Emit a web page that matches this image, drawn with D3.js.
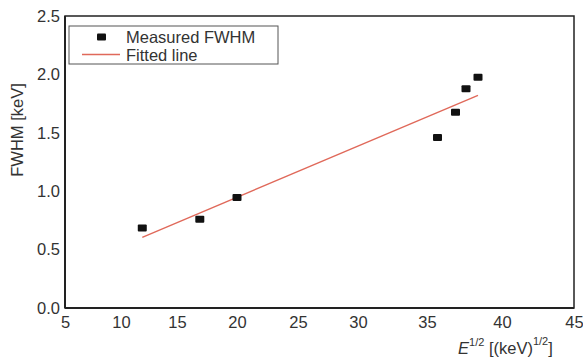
<!DOCTYPE html>
<html>
<head>
<meta charset="utf-8">
<script src="https://cdn.jsdelivr.net/npm/d3@7"></script>
<style>
  body { margin: 0; background: #fff; }
  svg { font-family: "Liberation Sans", Arial, sans-serif; }
  .tick text { font-size: 16.5px; fill: #333; }
  .label { font-size: 16.5px; fill: #333; }
</style>
</head>
<body>
<svg width="583" height="358"></svg>
<script>
// measured points, E^1/2 vs FWHM
var sqrtE = [11.9, 16.9, 20.0, 35.7, 36.9, 37.6, 38.4];
var fwhm = [0.684, 0.76, 0.946, 1.46, 1.675, 1.878, 1.975];

// fitted line end points
var fitX = [11.9, 38.4];
var fitY = [0.605, 1.82];

var xTicks = [5, 10, 15, 20, 25, 30, 35, 40, 45];
var yTicks = [0.0, 0.5, 1.0, 1.5, 2.0, 2.5];

var seriesNames = ['Measured FWHM', 'Fitted line'];

var svg = d3.select('svg');

var plotLeft = 65, plotRight = 574, plotTop = 16, plotBottom = 308;

// the x axis of the original figure is not evenly spaced, so the scale follows its tick spots
var xStops = [65, 121, 177, 237, 298, 358, 427, 502, 574];
var xScale = d3.scaleLinear().domain(xTicks).range(xStops);
var yScale = d3.scaleLinear().domain([0, 2.5]).range([plotBottom, plotTop]);

// **** axes ****
var xAxis = svg.append('g')
    .attr('transform', 'translate(0,' + plotBottom + ')')
    .call(d3.axisBottom(xScale).tickValues(xTicks).tickSize(0).tickPadding(8)
        .tickFormat(d3.format('d')));
xAxis.select('.domain').remove();

var yAxis = svg.append('g')
    .attr('transform', 'translate(' + plotLeft + ',0)')
    .call(d3.axisLeft(yScale).tickValues(yTicks).tickSize(0).tickPadding(5)
        .tickFormat(d3.format('.1f')));
yAxis.select('.domain').remove();

// frame
svg.append('rect')
    .attr('x', plotLeft).attr('y', plotTop)
    .attr('width', plotRight - plotLeft).attr('height', plotBottom - plotTop)
    .attr('fill', 'none').attr('stroke', '#222').attr('stroke-width', 1.5);
svg.append('line')
    .attr('x1', plotLeft).attr('x2', plotLeft).attr('y1', plotTop).attr('y2', plotBottom)
    .attr('stroke', '#222').attr('stroke-width', 2);
svg.append('line')
    .attr('x1', plotLeft).attr('x2', plotRight).attr('y1', plotBottom).attr('y2', plotBottom)
    .attr('stroke', '#222').attr('stroke-width', 2);

// **** fitted line ****
var fitData = fitX.map(function(x, i) { return [x, fitY[i]]; });
svg.append('path')
    .datum(fitData)
    .attr('fill', 'none')
    .attr('stroke', '#e0695a')
    .attr('stroke-width', 1.4)
    .attr('d', d3.line()
        .x(function(d) { return xScale(d[0]); })
        .y(function(d) { return yScale(d[1]); }));

// **** points ****
var pts = sqrtE.map(function(x, i) { return [x, fwhm[i]]; });
svg.selectAll('.pt')
    .data(pts)
    .enter()
    .append('rect')
    .attr('class', 'pt')
    .attr('x', function(d) { return xScale(d[0]) - 4.5; })
    .attr('y', function(d) { return yScale(d[1]) - 3.5; })
    .attr('width', 9)
    .attr('height', 7)
    .attr('rx', 1)
    .attr('fill', '#111');

// **** legend ****
var legend = svg.append('g');
legend.append('rect')
    .attr('x', 69).attr('y', 26).attr('width', 209).attr('height', 38)
    .attr('fill', '#fff').attr('stroke', '#555').attr('stroke-width', 1);
legend.append('rect')
    .attr('x', 97).attr('y', 33.5).attr('width', 9).attr('height', 7)
    .attr('rx', 1).attr('fill', '#111');
legend.append('line')
    .attr('x1', 82).attr('x2', 120).attr('y1', 54.5).attr('y2', 54.5)
    .attr('stroke', '#e0695a').attr('stroke-width', 1.4);
legend.selectAll('.legtext')
    .data(seriesNames)
    .enter()
    .append('text')
    .attr('class', 'label')
    .attr('x', 126)
    .attr('y', function(d, i) { return 43 + i * 18; })
    .text(function(d) { return d; });

// **** axis titles ****
svg.append('text')
    .attr('class', 'label')
    .attr('text-anchor', 'middle')
    .attr('transform', 'translate(23,130) rotate(-90)')
    .text('FWHM [keV]');

var xt = svg.append('text')
    .attr('class', 'label')
    .attr('x', 458)
    .attr('y', 354);
xt.append('tspan').attr('font-style', 'italic').text('E');
xt.append('tspan').attr('font-size', '11px').attr('dy', -8).text('1/2');
xt.append('tspan').attr('dy', 8).text(' [(keV)');
xt.append('tspan').attr('font-size', '11px').attr('dy', -9).text('1/2');
xt.append('tspan').attr('dy', 9).text(']');
</script>
</body>
</html>
